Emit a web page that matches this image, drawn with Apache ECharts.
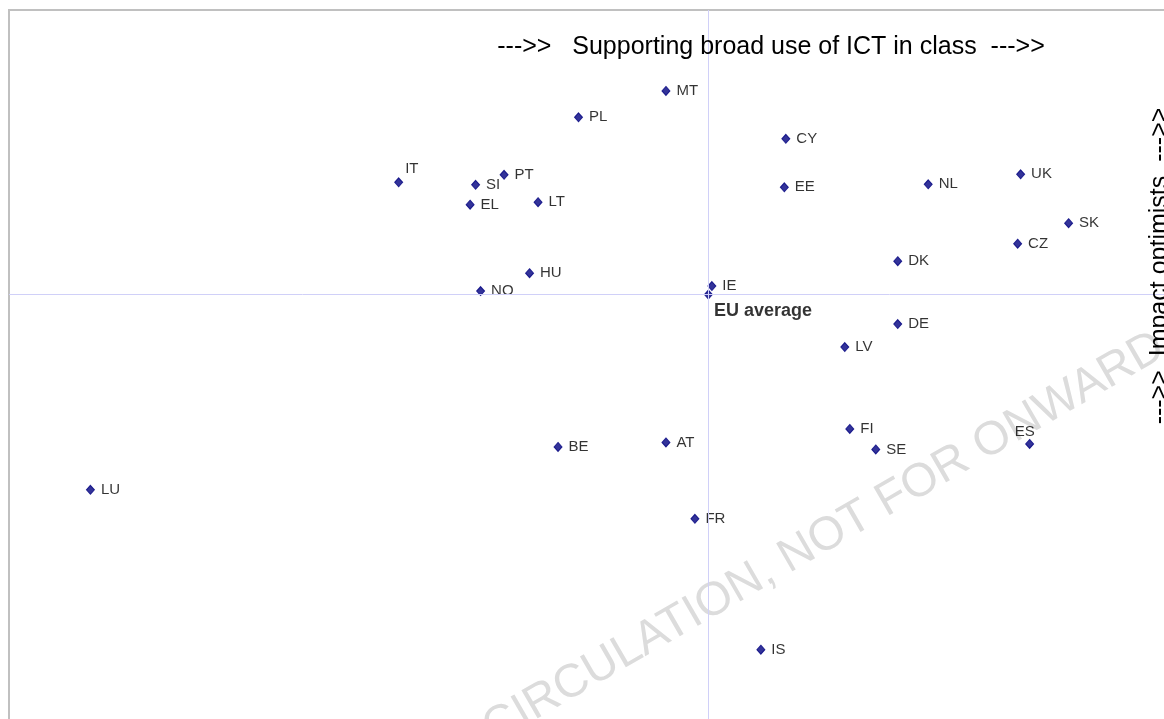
<!DOCTYPE html>
<html>
<head>
<meta charset="utf-8">
<title>Supporting broad use of ICT in class / Impact optimists</title>
<script src="https://cdn.jsdelivr.net/npm/echarts@6/dist/echarts.min.js"></script>
<style>
  html, body { margin: 0; padding: 0; background: #fff; overflow: hidden; }
  /* the plot frame runs past the right and bottom edges of the window */
  #chart { width: 1184px; height: 745px; }
</style>
</head>
<body>
<div id="chart"></div>
<script>
// country scores, relative to the EU average (0, 0)
const countries = ['MT', 'PL', 'CY', 'EE', 'NL', 'UK', 'SK', 'CZ', 'DK', 'DE', 'LV', 'FI', 'SE', 'ES',
  'AT', 'BE', 'FR', 'IS', 'LU', 'IT', 'SI', 'PT', 'EL', 'LT', 'HU', 'NO', 'IE'];
// x: supporting broad use of ICT in class
const supportIct = [-0.085, -0.26, 0.155, 0.152, 0.44, 0.625, 0.721, 0.619, 0.379, 0.379, 0.273, 0.283, 0.335, 0.643,
  -0.085, -0.301, -0.027, 0.105, -1.237, -0.62, -0.466, -0.409, -0.477, -0.341, -0.358, -0.456, 0.007];
// y: impact optimists
const impactOptimism = [0.408, 0.355, 0.312, 0.215, 0.221, 0.241, 0.143, 0.102, 0.067, -0.059, -0.105, -0.269, -0.31, -0.299,
  -0.296, -0.305, -0.449, -0.711, -0.391, 0.225, 0.22, 0.24, 0.18, 0.185, 0.043, 0.007, 0.017];
const euAverage = [0, 0];

const FONT = '"Liberation Sans", Arial, sans-serif';

// a couple of labels sit off the usual right-hand spot
const labelTweaks = {
  IT: { offset: [-4, -13] },
  ES: { position: 'top', offset: [-5, 6] }
};

const chart = echarts.init(document.getElementById('chart'));

const points = countries.map((c, i) => {
  const item = { name: c, value: [supportIct[i], impactOptimism[i]] };
  if (labelTweaks[c]) item.label = labelTweaks[c];
  return item;
});

const markerStyle = { color: '#000080', borderColor: '#000080', borderWidth: 1 };

chart.setOption({
  animation: false,
  grid: {
    left: 9, top: 10, right: 1, bottom: 1,
    show: true, borderColor: '#c0c0c0', borderWidth: 2, backgroundColor: '#fff'
  },
  xAxis: {
    type: 'value', min: -1.4, max: 0.95,
    axisLine: { show: false }, axisTick: { show: false }, axisLabel: { show: false }, splitLine: { show: false }
  },
  yAxis: {
    type: 'value', min: -0.9, max: 0.57,
    axisLine: { show: false }, axisTick: { show: false }, axisLabel: { show: false }, splitLine: { show: false }
  },
  graphic: [
    {
      type: 'text', x: 824, y: 538, rotation: Math.PI / 6, z: 0, silent: true,
      style: {
        text: 'CIRCULATION, NOT FOR ONWARD', fill: '#dcdcdc', font: '47px ' + FONT,
        align: 'center', verticalAlign: 'middle'
      }
    },
    {
      type: 'text', x: 771, y: 47, z: 10, silent: true,
      style: {
        text: '--->>   Supporting broad use of ICT in class  --->>', fill: '#000', font: '25px ' + FONT,
        align: 'center', verticalAlign: 'middle'
      }
    },
    {
      type: 'text', x: 1160, y: 266, rotation: Math.PI / 2, z: 10, silent: true,
      style: {
        text: '--->>  Impact optimists  --->>', fill: '#000', font: '25px ' + FONT,
        align: 'center', verticalAlign: 'middle'
      }
    }
  ],
  series: [
    {
      type: 'scatter',
      name: 'EU average',
      symbol: 'diamond',
      symbolSize: [8, 9],
      itemStyle: markerStyle,
      data: [{ name: 'EU average', value: euAverage }],
      label: {
        show: true, position: 'right', offset: [-4, 16], formatter: '{b}',
        color: '#000', fontSize: 18, fontWeight: 'bold', fontFamily: FONT
      },
      markLine: {
        silent: true, symbol: 'none', animation: false,
        label: { show: false },
        lineStyle: { color: '#d0d0f8', width: 1, type: 'solid' },
        data: [{ xAxis: euAverage[0] }, { yAxis: euAverage[1] }]
      },
      z: 3
    },
    {
      type: 'scatter',
      name: 'Countries',
      symbol: 'diamond',
      symbolSize: [8, 9],
      itemStyle: markerStyle,
      data: points,
      label: {
        show: true, position: 'right', distance: 6, formatter: '{b}',
        color: '#000', fontSize: 15, fontFamily: FONT
      },
      z: 4
    }
  ]
});
</script>
</body>
</html>
